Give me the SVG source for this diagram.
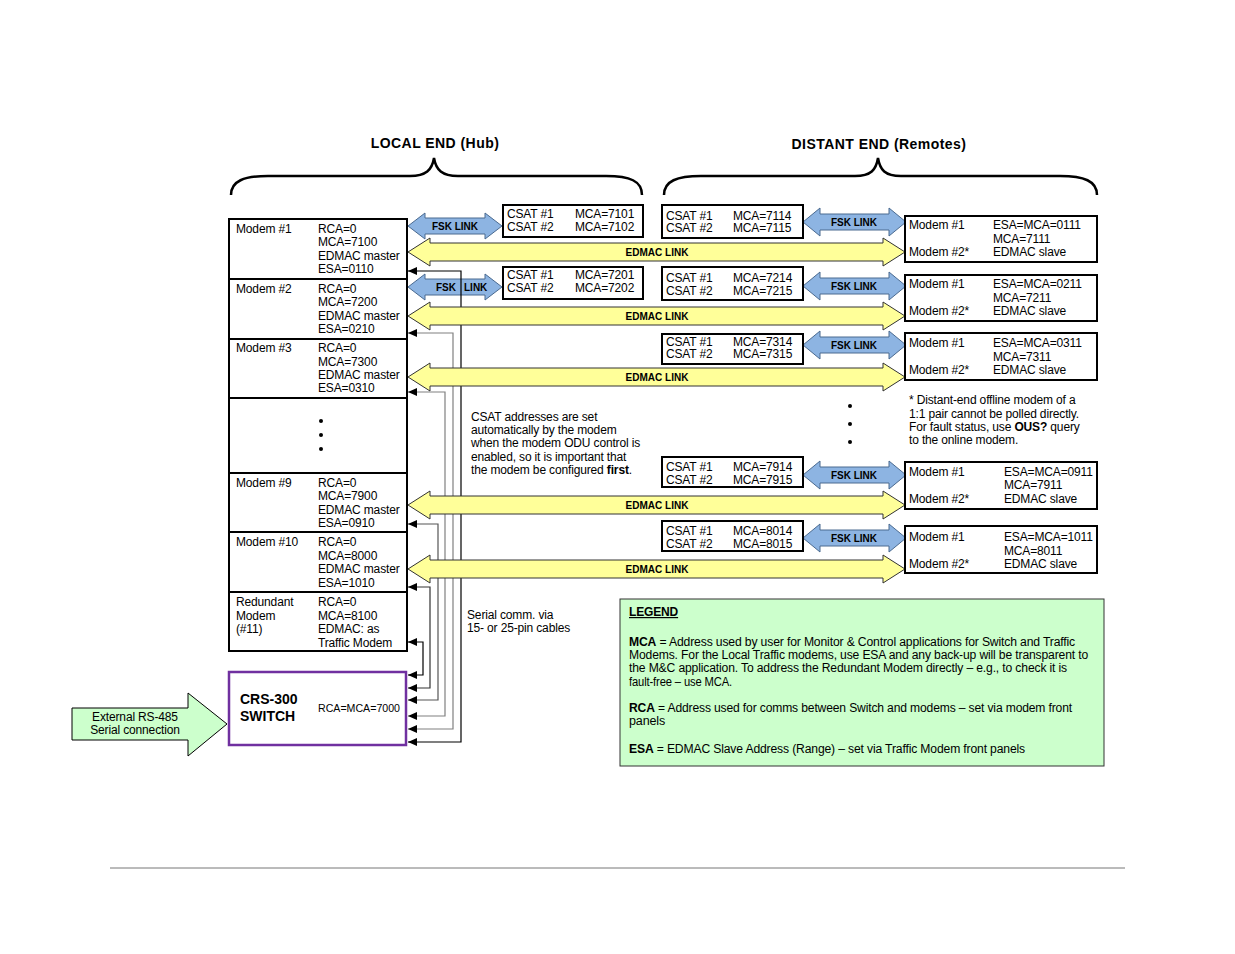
<svg xmlns="http://www.w3.org/2000/svg" width="1235" height="954" viewBox="0 0 1235 954">
<style>
text{font-family:"Liberation Sans",Arial,sans-serif;fill:#000}
.t{font-size:12px;letter-spacing:-0.15px}
.b{font-weight:bold}
.title{font-size:14px;font-weight:bold;letter-spacing:0.45px}
.lnk{font-size:10px;font-weight:bold}
.box{fill:#fff;stroke:#000;stroke-width:2}
.fsk{fill:#8DB4E2;stroke:#4A6A90;stroke-width:1}
.edm{fill:#FFFF99;stroke:#333;stroke-width:1}
.brace{fill:none;stroke:#000;stroke-width:2.5}
.c{fill:none;stroke-width:1.2}
</style>
<defs>
<marker id="ah" viewBox="0 0 9 8" markerUnits="userSpaceOnUse" markerWidth="9" markerHeight="8" refX="9" refY="4" orient="auto-start-reverse">
<path d="M0,0 L9,4 L0,8 Z" fill="#000"/>
</marker>
</defs>
<rect width="1235" height="954" fill="#fff"/>

<g id="headings">
<text class="title" x="435" y="148" text-anchor="middle">LOCAL END (Hub)</text>
<text class="title" x="879" y="149" text-anchor="middle">DISTANT END (Remotes)</text>
<path class="brace" d="M231,195 C231,181 244,176 268,176 L410,176 C426,176 432,170 434,158 C436,170 442,176 458,176 L606,176 C630,176 642,181 642,195"/>
<path class="brace" d="M664,195 C664,181 677,176 701,176 L855,176 C871,176 876,170 878,158 C880,170 885,176 901,176 L1060,176 C1084,176 1097,181 1097,195"/>
</g>

<g id="fsk-arrows">
<path class="fsk" d="M408,226 L425,213 L425,218 L485,218 L485,213 L502,226 L485,239 L485,234 L425,234 L425,239 Z"/>
<text class="lnk" x="455" y="230" text-anchor="middle">FSK LINK</text>
<path class="fsk" d="M408,287 L425,274 L425,279 L485,279 L485,274 L502,287 L485,300 L485,295 L425,295 L425,300 Z"/>
<text class="lnk" x="436" y="291">FSK</text>
<text class="lnk" x="464" y="291">LINK</text>
<path class="fsk" d="M803,222 L820,208 L820,214 L889,214 L889,208 L906,222 L889,236 L889,230 L820,230 L820,236 Z"/>
<text class="lnk" x="854" y="226" text-anchor="middle">FSK LINK</text>
<path class="fsk" d="M803,286 L820,272 L820,278 L889,278 L889,272 L906,286 L889,300 L889,294 L820,294 L820,300 Z"/>
<text class="lnk" x="854" y="290" text-anchor="middle">FSK LINK</text>
<path class="fsk" d="M803,345 L820,331 L820,337 L889,337 L889,331 L906,345 L889,359 L889,353 L820,353 L820,359 Z"/>
<text class="lnk" x="854" y="349" text-anchor="middle">FSK LINK</text>
<path class="fsk" d="M803,475 L820,461 L820,467 L889,467 L889,461 L906,475 L889,489 L889,483 L820,483 L820,489 Z"/>
<text class="lnk" x="854" y="479" text-anchor="middle">FSK LINK</text>
<path class="fsk" d="M803,538 L820,524 L820,530 L889,530 L889,524 L906,538 L889,552 L889,546 L820,546 L820,552 Z"/>
<text class="lnk" x="854" y="542" text-anchor="middle">FSK LINK</text>
</g>

<g id="connectors">
<path class="c" stroke="#000" d="M408,271 H461 V742 H408" marker-start="url(#ah)" marker-end="url(#ah)"/>
<path class="c" stroke="#808080" d="M408,333 H453 V729 H408" marker-start="url(#ah)" marker-end="url(#ah)"/>
<path class="c" stroke="#808080" d="M408,392 H445 V716 H408" marker-start="url(#ah)" marker-end="url(#ah)"/>
<path class="c" stroke="#555" d="M408,524 H438 V700 H408" marker-start="url(#ah)" marker-end="url(#ah)"/>
<path class="c" stroke="#333" d="M408,587 H430 V688 H408" marker-start="url(#ah)" marker-end="url(#ah)"/>
<path class="c" stroke="#000" d="M408,642 H423 V675 H408" marker-start="url(#ah)" marker-end="url(#ah)"/>
</g>

<g id="edmac-links">
<path class="edm" d="M408,252 L430,238 L430,243 L883,243 L883,238 L905,252 L883,266 L883,261 L430,261 L430,266 Z"/>
<text class="lnk" x="657" y="256" text-anchor="middle">EDMAC LINK</text>
<path class="edm" d="M408,316 L430,302 L430,307 L883,307 L883,302 L905,316 L883,330 L883,325 L430,325 L430,330 Z"/>
<text class="lnk" x="657" y="320" text-anchor="middle">EDMAC LINK</text>
<path class="edm" d="M408,377 L430,363 L430,368 L883,368 L883,363 L905,377 L883,391 L883,386 L430,386 L430,391 Z"/>
<text class="lnk" x="657" y="381" text-anchor="middle">EDMAC LINK</text>
<path class="edm" d="M408,505 L430,491 L430,496 L883,496 L883,491 L905,505 L883,519 L883,514 L430,514 L430,519 Z"/>
<text class="lnk" x="657" y="509" text-anchor="middle">EDMAC LINK</text>
<path class="edm" d="M408,569 L430,555 L430,560 L883,560 L883,555 L905,569 L883,583 L883,578 L430,578 L430,583 Z"/>
<text class="lnk" x="657" y="573" text-anchor="middle">EDMAC LINK</text>
</g>

<g id="local-modems">
<rect class="box" x="229" y="219" width="178" height="432"/>
<path d="M229,279 H407 M229,339 H407 M229,398 H407 M229,473 H407 M229,532 H407 M229,592 H407" stroke="#000" stroke-width="2"/>
</g>
<g id="modem1">
<text class="t" x="236" y="233">Modem #1</text>
<text class="t" x="318" y="233">RCA=0</text><text class="t" x="318" y="246">MCA=7100</text><text class="t" x="318" y="260">EDMAC master</text><text class="t" x="318" y="273">ESA=0110</text>
</g>
<g id="modem2">
<text class="t" x="236" y="293">Modem #2</text>
<text class="t" x="318" y="293">RCA=0</text><text class="t" x="318" y="306">MCA=7200</text><text class="t" x="318" y="320">EDMAC master</text><text class="t" x="318" y="333">ESA=0210</text>
</g>
<g id="modem3">
<text class="t" x="236" y="352">Modem #3</text>
<text class="t" x="318" y="352">RCA=0</text><text class="t" x="318" y="366">MCA=7300</text><text class="t" x="318" y="379">EDMAC master</text><text class="t" x="318" y="392">ESA=0310</text>
</g>
<g id="modem-dots">
<circle cx="321" cy="421" r="2"/><circle cx="321" cy="435" r="2"/><circle cx="321" cy="449" r="2"/>
</g>
<g id="modem9">
<text class="t" x="236" y="487">Modem #9</text>
<text class="t" x="318" y="487">RCA=0</text><text class="t" x="318" y="500">MCA=7900</text><text class="t" x="318" y="514">EDMAC master</text><text class="t" x="318" y="527">ESA=0910</text>
</g>
<g id="modem10">
<text class="t" x="236" y="546">Modem #10</text>
<text class="t" x="318" y="546">RCA=0</text><text class="t" x="318" y="560">MCA=8000</text><text class="t" x="318" y="573">EDMAC master</text><text class="t" x="318" y="587">ESA=1010</text>
</g>
<g id="redundant-modem">
<text class="t" x="236" y="606">Redundant</text><text class="t" x="236" y="620">Modem</text><text class="t" x="236" y="633">(#11)</text>
<text class="t" x="318" y="606">RCA=0</text><text class="t" x="318" y="620">MCA=8100</text><text class="t" x="318" y="633">EDMAC: as</text><text class="t" x="318" y="647">Traffic Modem</text>
</g>

<g id="switch">
<rect x="229" y="672" width="177" height="73" fill="#fff" stroke="#7030A0" stroke-width="2.5"/>
<text x="240" y="704" font-size="14" font-weight="bold">CRS-300</text>
<text x="240" y="721" font-size="14" font-weight="bold">SWITCH</text>
<text x="318" y="712" font-size="11" textLength="82" lengthAdjust="spacingAndGlyphs">RCA=MCA=7000</text>
</g>

<g id="external-rs485">
<path d="M72,708 L188,708 L188,693 L227,724 L188,756 L188,740 L72,740 Z" fill="#CCFFCC" stroke="#000" stroke-width="1"/>
<text class="t" x="135" y="721" text-anchor="middle">External RS-485</text>
<text class="t" x="135" y="734" text-anchor="middle">Serial connection</text>
</g>

<g id="local-csat1">
<rect class="box" x="503" y="205" width="140" height="32"/>
<text class="t" x="507" y="218">CSAT #1</text><text class="t" x="575" y="218">MCA=7101</text>
<text class="t" x="507" y="231">CSAT #2</text><text class="t" x="575" y="231">MCA=7102</text>
</g>
<g id="local-csat2">
<rect class="box" x="503" y="267" width="140" height="32"/>
<text class="t" x="507" y="279">CSAT #1</text><text class="t" x="575" y="279">MCA=7201</text>
<text class="t" x="507" y="292">CSAT #2</text><text class="t" x="575" y="292">MCA=7202</text>
</g>

<g id="remote-csat1">
<rect class="box" x="662" y="205" width="141" height="33"/>
<text class="t" x="666" y="220">CSAT #1</text><text class="t" x="733" y="220">MCA=7114</text>
<text class="t" x="666" y="232">CSAT #2</text><text class="t" x="733" y="232">MCA=7115</text>
</g>
<g id="remote-csat2">
<rect class="box" x="662" y="267" width="141" height="33"/>
<text class="t" x="666" y="282">CSAT #1</text><text class="t" x="733" y="282">MCA=7214</text>
<text class="t" x="666" y="295">CSAT #2</text><text class="t" x="733" y="295">MCA=7215</text>
</g>
<g id="remote-csat3">
<rect class="box" x="662" y="334" width="141" height="30"/>
<text class="t" x="666" y="346">CSAT #1</text><text class="t" x="733" y="346">MCA=7314</text>
<text class="t" x="666" y="358">CSAT #2</text><text class="t" x="733" y="358">MCA=7315</text>
</g>
<g id="remote-csat9">
<rect class="box" x="662" y="457" width="141" height="30"/>
<text class="t" x="666" y="471">CSAT #1</text><text class="t" x="733" y="471">MCA=7914</text>
<text class="t" x="666" y="484">CSAT #2</text><text class="t" x="733" y="484">MCA=7915</text>
</g>
<g id="remote-csat10">
<rect class="box" x="662" y="521" width="141" height="30"/>
<text class="t" x="666" y="535">CSAT #1</text><text class="t" x="733" y="535">MCA=8014</text>
<text class="t" x="666" y="548">CSAT #2</text><text class="t" x="733" y="548">MCA=8015</text>
</g>

<g id="remote-modem1">
<rect class="box" x="905" y="216" width="192" height="46"/>
<text class="t" x="909" y="229">Modem #1</text><text class="t" x="993" y="229">ESA=MCA=0111</text>
<text class="t" x="993" y="243">MCA=7111</text>
<text class="t" x="909" y="256">Modem #2*</text><text class="t" x="993" y="256">EDMAC slave</text>
</g>
<g id="remote-modem2">
<rect class="box" x="905" y="275" width="192" height="46"/>
<text class="t" x="909" y="288">Modem #1</text><text class="t" x="993" y="288">ESA=MCA=0211</text>
<text class="t" x="993" y="302">MCA=7211</text>
<text class="t" x="909" y="315">Modem #2*</text><text class="t" x="993" y="315">EDMAC slave</text>
</g>
<g id="remote-modem3">
<rect class="box" x="905" y="333" width="192" height="47"/>
<text class="t" x="909" y="347">Modem #1</text><text class="t" x="993" y="347">ESA=MCA=0311</text>
<text class="t" x="993" y="361">MCA=7311</text>
<text class="t" x="909" y="374">Modem #2*</text><text class="t" x="993" y="374">EDMAC slave</text>
</g>
<g id="remote-modem9">
<rect class="box" x="905" y="462" width="192" height="47"/>
<text class="t" x="909" y="476">Modem #1</text><text class="t" x="1004" y="476">ESA=MCA=0911</text>
<text class="t" x="1004" y="489">MCA=7911</text>
<text class="t" x="909" y="503">Modem #2*</text><text class="t" x="1004" y="503">EDMAC slave</text>
</g>
<g id="remote-modem10">
<rect class="box" x="905" y="526" width="192" height="47"/>
<text class="t" x="909" y="541">Modem #1</text><text class="t" x="1004" y="541">ESA=MCA=1011</text>
<text class="t" x="1004" y="555">MCA=8011</text>
<text class="t" x="909" y="568">Modem #2*</text><text class="t" x="1004" y="568">EDMAC slave</text>
</g>

<g id="remote-dots">
<circle cx="850" cy="406" r="2"/><circle cx="850" cy="424" r="2"/><circle cx="850" cy="442" r="2"/>
</g>

<g id="notes">
<text class="t" x="471" y="421">CSAT addresses are set</text>
<text class="t" x="471" y="434">automatically by the modem</text>
<text class="t" x="471" y="447">when the modem ODU control is</text>
<text class="t" x="471" y="461">enabled, so it is important that</text>
<text class="t" x="471" y="474">the modem be configured <tspan class="b">first</tspan>.</text>
<text class="t" x="909" y="404">* Distant-end offline modem of a</text>
<text class="t" x="909" y="418">1:1 pair cannot be polled directly.</text>
<text class="t" x="909" y="431">For fault status, use <tspan class="b">OUS?</tspan> query</text>
<text class="t" x="909" y="444">to the online modem.</text>
<text class="t" x="467" y="619">Serial comm. via</text>
<text class="t" x="467" y="632">15- or 25-pin cables</text>
</g>

<g id="legend">
<rect x="620" y="599" width="484" height="167" fill="#CCFFCC" stroke="#333" stroke-width="1"/>
<text class="t b" x="629" y="616" text-decoration="underline">LEGEND</text>
<text class="t" x="629" y="646" textLength="446" lengthAdjust="spacingAndGlyphs"><tspan class="b">MCA</tspan> = Address used by user for Monitor &amp; Control applications for Switch and Traffic</text>
<text class="t" x="629" y="659" textLength="459" lengthAdjust="spacingAndGlyphs">Modems. For the Local Traffic modems, use ESA and any back-up will be transparent to</text>
<text class="t" x="629" y="672" textLength="438" lengthAdjust="spacingAndGlyphs">the M&amp;C application. To address the Redundant Modem directly – e.g., to check it is</text>
<text class="t" x="629" y="686" textLength="103" lengthAdjust="spacingAndGlyphs">fault-free – use MCA.</text>
<text class="t" x="629" y="712" textLength="443" lengthAdjust="spacingAndGlyphs"><tspan class="b">RCA</tspan> = Address used for comms between Switch and modems – set via modem front</text>
<text class="t" x="629" y="725" textLength="36" lengthAdjust="spacingAndGlyphs">panels</text>
<text class="t" x="629" y="753" textLength="396" lengthAdjust="spacingAndGlyphs"><tspan class="b">ESA</tspan> = EDMAC Slave Address (Range) – set via Traffic Modem front panels</text>
</g>

<line x1="110" y1="868" x2="1125" y2="868" stroke="#777" stroke-width="1"/>
</svg>
